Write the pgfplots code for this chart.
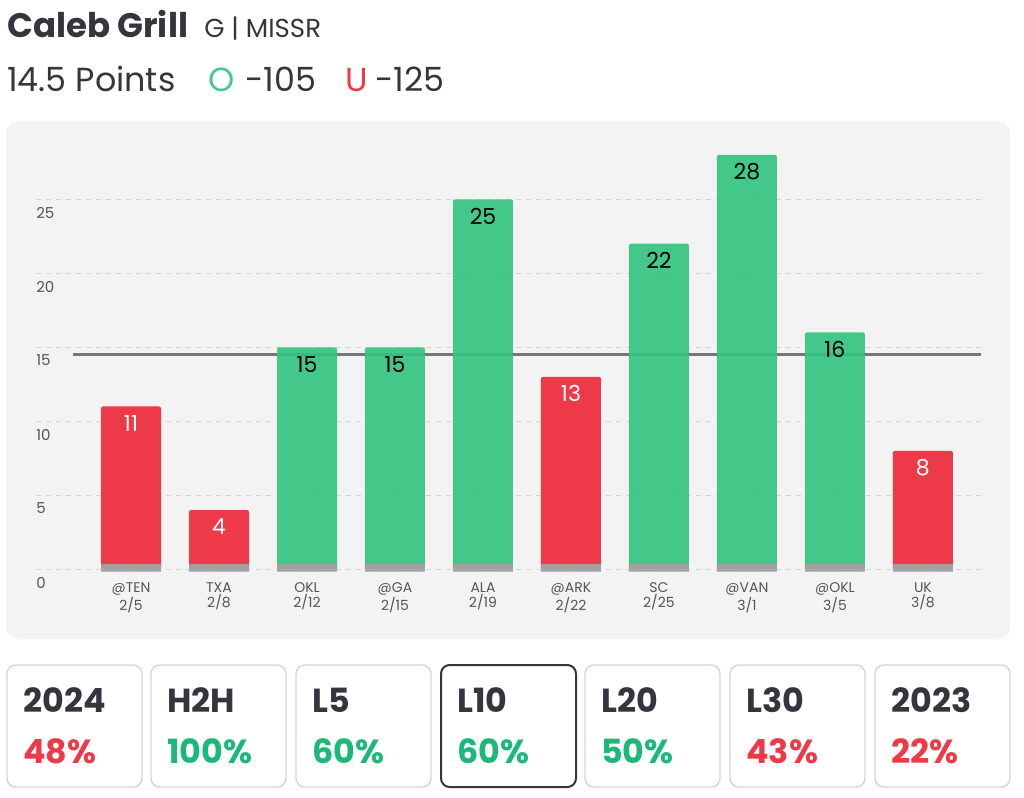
\documentclass[border=0pt]{standalone}
\usepackage{fontspec}
\setmainfont{Poppins}
\usepackage{pgfplots}
\pgfplotsset{compat=1.18}
\definecolor{barGreen}{RGB}{50,196,126}
\definecolor{oGreen}{RGB}{69,201,138}
\definecolor{barRed}{RGB}{238,58,72}
\definecolor{pctGreen}{RGB}{27,185,120}
\definecolor{inkDark}{RGB}{53,53,62}
\definecolor{tickGray}{RGB}{85,85,85}
\definecolor{panelBg}{RGB}{243,243,243}
\definecolor{gridGray}{RGB}{212,212,212}
\definecolor{stripGray}{RGB}{160,160,160}
\definecolor{lineGray}{RGB}{118,118,118}
\definecolor{cardEdge}{RGB}{214,214,214}

\begin{document}
\begin{tikzpicture}
% ---- header, panel and stat cards (pixel grid, y downwards) ----
\begin{scope}[x=0.75pt,y=-0.75pt]
\useasboundingbox (0,0) rectangle (1024,797);
\fill[panelBg, rounded corners=9pt] (6,121) rectangle (1010,639);

\node[anchor=base west, inner sep=0pt, text=inkDark,
      font=\fontsize{25.5}{30}\selectfont\bfseries] at (7,37.5) {Caleb Grill};
\node[anchor=base west, inner sep=0pt, text=inkDark,
      font=\fontsize{19.5}{22}\selectfont] at (204,37.5) {G | MISSR};
\node[anchor=base west, inner sep=0pt, text=inkDark,
      font=\fontsize{25}{30}\selectfont] at (7,91.7) {14.5 Points};
\node[anchor=base west, inner sep=0pt, text=oGreen,
      font=\fontsize{25}{30}\selectfont] at (208,91.7) {O};
\node[anchor=base west, inner sep=0pt, text=inkDark,
      font=\fontsize{25}{30}\selectfont] at (245,91.7) {-105};
\node[anchor=base west, inner sep=0pt, text=barRed,
      font=\fontsize{25}{30}\selectfont] at (345,91.7) {U};
\node[anchor=base west, inner sep=0pt, text=inkDark,
      font=\fontsize{25}{30}\selectfont] at (375,91.7) {-125};

\foreach \cx/\lab/\pct/\col in {7/2024/48/barRed, 151/H2H/100/pctGreen,
    296/L5/60/pctGreen, 441/L10/60/pctGreen, 585/L20/50/pctGreen,
    730/L30/43/barRed, 875/2023/22/barRed} {
  \filldraw[fill=white, draw=cardEdge, line width=1.1pt, rounded corners=6.5pt]
      (\cx,665) rectangle (\cx+135,787);
  \node[anchor=base west, inner sep=0pt, text=inkDark,
        font=\fontsize{25}{30}\selectfont\bfseries] at (\cx+16,712) {\lab};
  \node[anchor=base west, inner sep=0pt, text=\col,
        font=\fontsize{25}{30}\selectfont\bfseries] at (\cx+16,763) {\pct\%};
}
\draw[inkDark, line width=1.5pt, rounded corners=6.5pt] (441,665) rectangle (576,787);
\end{scope}

% ---- bar chart ----
\begin{axis}[
    at={(27pt,-432.5pt)}, anchor=south west,
    scale only axis, width=708.75pt, height=321.9pt,
    xmin=-1.08, xmax=9.66, ymin=-0.5, ymax=28.5,
    axis line style={draw=none},
    tick style={draw=none},
    major tick length=0pt,
    ymajorgrids,
    grid style={gridGray, line width=0.9pt, dash pattern=on 4pt off 3.5pt},
    ytick={0,5,10,15,20,25},
    xtick={0,1,2,3,4,5,6,7,8,9},
    xticklabels={{@TEN\\2/5},{TXA\\2/8},{OKL\\2/12},{@GA\\2/15},{ALA\\2/19},
                 {@ARK\\2/22},{SC\\2/25},{@VAN\\3/1},{@OKL\\3/5},{UK\\3/8}},
    /pgf/number format/assume math mode=true,
    yticklabel style={anchor=north west, inner sep=0pt, yshift=-5.6pt,
        font=\fontsize{11.25}{13}\selectfont, text=tickGray},
    xticklabel style={anchor=north, inner sep=0pt, yshift=-4.5pt, align=center,
        font=\fontsize{10.5}{11.25}\selectfont, text=tickGray},
    clip=false,
]

% line value 14.5
\addplot[lineGray, line width=2.25pt] coordinates {(-0.66,14.5) (9.66,14.5)};

% over (green)
\addplot[ybar, bar width=45pt, bar shift=0pt, draw=none, fill=barGreen,
    fill opacity=0.9, rounded corners=1.5pt,
    nodes near coords,
    every node near coord/.append style={anchor=center, yshift=-12.75pt,
        text=black, text opacity=1, font=\fontsize{16.5}{18}\selectfont,
        /pgf/number format/assume math mode=true}]
coordinates {(2,15) (3,15) (4,25) (6,22) (7,28) (8,16)};

% under (red)
\addplot[ybar, bar width=45pt, bar shift=0pt, draw=none, fill=barRed,
    rounded corners=1.5pt,
    nodes near coords,
    every node near coord/.append style={anchor=center, yshift=-12.75pt,
        text=white, text opacity=1, font=\fontsize{16.5}{18}\selectfont,
        /pgf/number format/assume math mode=true}]
coordinates {(0,11) (1,4) (5,13) (9,8)};

% grey base strips
\addplot[ybar, bar width=45pt, bar shift=0pt, draw=none, fill=stripGray]
coordinates {(0,0.36) (1,0.36) (2,0.36) (3,0.36) (4,0.36)
             (5,0.36) (6,0.36) (7,0.36) (8,0.36) (9,0.36)};
\addplot[ybar, bar width=45pt, bar shift=0pt, draw=none, fill=stripGray]
coordinates {(0,-0.16) (1,-0.16) (2,-0.16) (3,-0.16) (4,-0.16)
             (5,-0.16) (6,-0.16) (7,-0.16) (8,-0.16) (9,-0.16)};

\end{axis}
\end{tikzpicture}
\end{document}
